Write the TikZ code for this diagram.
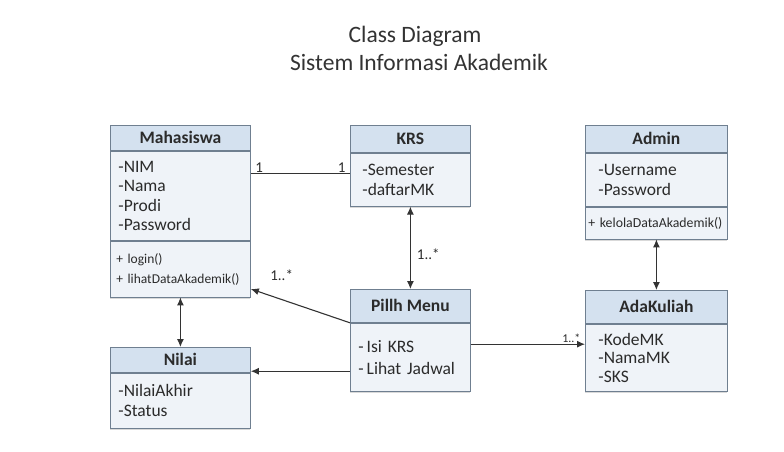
\documentclass[tikz,border=0pt]{standalone}
\usepackage{fontspec}
\setmainfont{Carlito}
\usetikzlibrary{arrows.meta,shadows}
\definecolor{SiaHead}{HTML}{D4E1EF}
\definecolor{SiaBody}{HTML}{EFF3F8}
\definecolor{SiaLine}{HTML}{6F7F90}
\definecolor{SiaText}{HTML}{2B2B2B}
\definecolor{SiaArrow}{HTML}{333333}

\begin{document}
\begin{tikzpicture}[x=1pt,y=-1pt,
    classhead/.style={
      draw=SiaLine,
      fill=SiaHead,
      line width=0.8pt,
      anchor=north west,
      inner sep=0pt,
      text=SiaText,
      font=\bfseries\fontsize{17.5}{20}\selectfont
    },
    classbody/.style={
      draw=SiaLine,
      fill=SiaBody,
      line width=0.8pt,
      anchor=north west,
      inner ysep=0pt,
      inner xsep=8pt,
      align=left,
      text=SiaText,
      font=\fontsize{17.5}{19.5}\selectfont,
      drop shadow={shadow xshift=0pt,shadow yshift=-2pt,opacity=0.3}
    },
    methbody/.style={classbody,font=\fontsize{13.5}{20}\selectfont},
    assoc/.style={draw=SiaArrow,line width=1.1pt},
    arr/.style={assoc,-{Latex[length=8pt,width=7pt]}},
    biarr/.style={assoc,{Latex[length=8pt,width=7pt]}-{Latex[length=8pt,width=7pt]}},
    mult/.style={text=SiaText,inner sep=1pt,font=\fontsize{15}{17}\selectfont}
  ]
    \useasboundingbox (0,0) rectangle (784,451);

    % Title
    \node[text=SiaArrow,font=\fontsize{23.5}{26}\selectfont] (title1) at (415,36) {Class Diagram};
    \node[text=SiaArrow,font=\fontsize{23.5}{26}\selectfont] (title2) at (419,62) {Sistem Informasi Akademik};

    % Class: Mahasiswa
    \node[classhead,minimum width=140pt,minimum height=25pt] (mhs) at (110,125) {Mahasiswa};
    \node[classbody,text width=124pt,minimum height=89pt] (mhsattr) at (mhs.south west) {
      -NIM\\ -Nama\\ -Prodi\\ -Password};
    \node[methbody,inner xsep=6pt,text width=128pt,minimum height=56pt] (mhsmeth) at (mhsattr.south west) {
      + login()\\ + lihatDataAkademik()};

    % Class: KRS
    \node[classhead,minimum width=120pt,minimum height=27pt] (krs) at (350,125) {KRS};
    \node[classbody,inner xsep=12pt,text width=96pt,minimum height=53pt] (krsattr) at (krs.south west) {
      -Semester\\ -daftarMK};

    % Class: Admin
    \node[classhead,minimum width=142pt,minimum height=27pt] (adm) at (585,125) {Admin};
    \node[classbody,inner xsep=13pt,text width=116pt,minimum height=53pt] (admattr) at (adm.south west) {
      -Username\\ -Password\\[4pt]};
    \node[methbody,inner xsep=3pt,text width=136pt,minimum height=32pt,font=\fontsize{13.8}{15}\selectfont] (admmeth) at (admattr.south west) {
      + kelolaDataAkademik()};

    % Class: Nilai
    \node[classhead,minimum width=140pt,minimum height=25pt] (nl) at (110,347) {Nilai};
    \node[classbody,text width=124pt,minimum height=55pt] (nlattr) at (nl.south west) {
      -NilaiAkhir\\ -Status};

    % Class: Pillh Menu
    \node[classhead,minimum width=120pt,minimum height=33pt] (pm) at (350,289) {Pillh Menu};
    \node[classbody,text width=104pt,minimum height=68pt,font=\fontsize{17.5}{22}\selectfont] (pmattr) at (pm.south west) {
      -\,Isi KRS\\ -\,Lihat Jadwal};

    % Class: AdaKuliah
    \node[classhead,minimum width=142pt,minimum height=33pt] (ak) at (585,290) {AdaKuliah};
    \node[classbody,inner xsep=13pt,text width=116pt,minimum height=67pt,font=\fontsize{17.5}{18.5}\selectfont] (akattr) at (ak.south west) {
      -KodeMK\\ -NamaMK\\ -SKS};

    % Associations
    \coordinate (krsjoin) at ([yshift=6pt]krsattr.west);
    \draw[assoc] (krsjoin -| mhsattr.east)
      -- node[mult,at start,above right,xshift=3pt] {1}
         node[mult,at end,above left,xshift=-3pt] {1} (krsjoin);

    \draw[biarr] (krsattr.south) -- node[mult,pos=0.58,right,xshift=5pt] {1..*} (pm.north);

    \draw[arr] (pm.south west) -- node[mult,at end,anchor=south west,xshift=18pt,yshift=7pt] {1..*}
      ([yshift=-20pt]mhsmeth.east);

    \coordinate (pmnl) at ([yshift=-14pt]pmattr.west);
    \draw[arr] (pmnl) -- (pmnl -| nlattr.east);

    \coordinate (pmak) at ([yshift=13pt]pmattr.east);
    \draw[arr] (pmak) -- node[mult,at end,above left,xshift=-3pt,font=\fontsize{12}{14}\selectfont] {1..*}
      (pmak -| akattr.west);

    \draw[biarr] (mhsmeth.south) -- (nl.north);
    \draw[biarr] (admmeth.south) -- (ak.north);
  \end{tikzpicture}
\end{document}
